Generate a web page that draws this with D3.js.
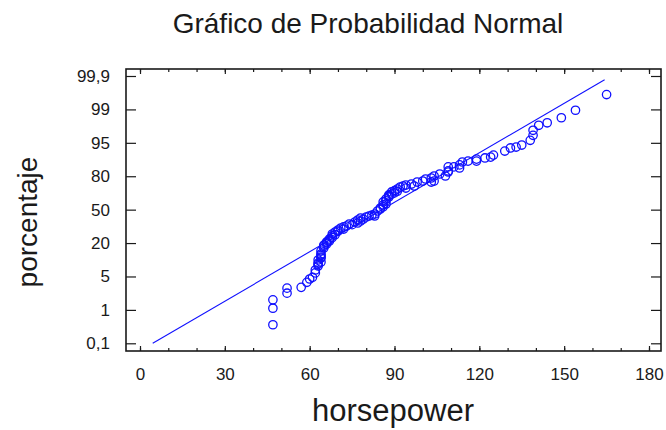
<!DOCTYPE html>
<html>
<head>
<meta charset="utf-8">
<script src="https://cdn.jsdelivr.net/npm/d3@7/dist/d3.min.js"></script>
<style>
  html, body { margin: 0; padding: 0; background: #fff; }
  svg { display: block; font-family: "Liberation Sans", Arial, sans-serif; }
</style>
</head>
<body>
<svg id="chart" width="666" height="430"></svg>
<script>
// Normal probability plot of horsepower
const yTickValues = [0.1, 1, 5, 20, 50, 80, 95, 99, 99.9];
const yTickLabels = ["0,1", "1", "5", "20", "50", "80", "95", "99", "99,9"];
const xTickValues = [0, 30, 60, 90, 120, 150, 180];
const xMinorTicks = d3.range(0, 181, 10);

// observed values (horsepower) and their cumulative percentage
const horsepower = [47, 47, 47, 52, 52, 57, 59, 60, 61, 62, 62, 63, 63, 63, 64, 63, 64, 64, 64, 64,
  64, 65, 65, 65, 66, 66, 66, 67, 67, 67, 68, 68, 68, 69, 69, 70, 70, 71, 72, 72,
  73, 74, 75, 76, 77, 77, 78, 78, 79, 80, 81, 82, 83, 83, 84, 85, 85, 86, 86, 87,
  86, 87, 87, 88, 88, 88, 89, 89, 90, 90, 91, 91, 92, 93, 94, 94, 96, 97, 98, 100,
  101, 103, 103, 104, 104, 106, 108, 109, 109, 109, 111, 113, 113, 114, 116, 119, 119, 122, 124, 125,
  129, 131, 133, 135, 138, 139, 139, 141, 144, 149, 154, 165];
const percentage = [0.6, 1.2, 2.2, 3.0, 3.6, 3.7, 4.3, 4.7, 4.9, 6.6, 7.9, 9.7, 10.5, 11.0, 11.5, 12.4, 13.3, 13.7, 14.5, 15.1,
  16.4, 17.8, 18.5, 19.1, 19.6, 20.3, 21.0, 21.9, 22.8, 23.7, 25.0, 26.4, 28.1, 27.5, 29.9, 30.5, 31.7, 33.5, 32.6, 34.5,
  35.3, 37.1, 36.5, 38.9, 38.0, 40.7, 39.8, 42.5, 41.5, 43.4, 44.3, 45.0, 44.3, 46.1, 48.8, 50.5, 51.5, 52.5, 54.2, 55.1,
  56.9, 58.0, 59.6, 61.4, 62.5, 63.2, 64.0, 65.9, 65.0, 67.0, 66.5, 68.5, 70.3, 71.2, 69.4, 72.1, 73.0, 71.2, 74.8, 75.7,
  77.5, 74.8, 78.4, 75.7, 80.1, 81.0, 80.1, 81.9, 82.4, 84.2, 84.2, 83.7, 85.1, 86.4, 86.8, 86.8, 87.7, 88.2, 88.6, 89.5,
  91.3, 92.7, 93.1, 94.0, 95.3, 95.9, 96.5, 97.1, 97.4, 98.0, 98.9, 99.4];

// fitted normal reference line
const fitHp = [4.5, 164.3];
const fitPct = [0.1, 99.8];

const blue = "#1010ff";
const ink = "#1a1a1a";

const svg = d3.select("#chart");

// plot frame
const frame = { left: 126, right: 661, top: 69, bottom: 351 };

const x = d3.scaleLinear().domain([0, 180]).range([140, 649]);

// probability axis: labelled percentages sit at equal steps
const yTop = 76, yBottom = 343.3;
const step = (yBottom - yTop) / (yTickValues.length - 1);
const y = d3.scaleLinear()
  .domain(yTickValues)
  .range(yTickValues.map((d, i) => yBottom - i * step));

// frame rectangle
svg.append("rect")
  .attr("x", frame.left).attr("y", frame.top)
  .attr("width", frame.right - frame.left).attr("height", frame.bottom - frame.top)
  .attr("fill", "none").attr("stroke", ink).attr("stroke-width", 1.6);

function styleAxis(g) {
  g.select(".domain").remove();
  g.selectAll(".tick line").attr("stroke", ink).attr("stroke-width", 1.2);
  g.selectAll(".tick text").attr("fill", ink)
    .style("font-family", '"Liberation Sans", Arial, sans-serif')
    .style("font-size", "17px");
}

// bottom axis: labelled majors, minor ticks every 10
svg.append("g").attr("transform", `translate(0,${frame.bottom})`)
  .call(d3.axisBottom(x).tickValues(xMinorTicks).tickSizeInner(-3).tickSizeOuter(0).tickFormat(""))
  .call(styleAxis);
svg.append("g").attr("transform", `translate(0,${frame.bottom})`)
  .call(d3.axisBottom(x).tickValues(xTickValues).tickSizeInner(-5).tickSizeOuter(0).tickPadding(17))
  .call(styleAxis);

// top axis (ticks only)
svg.append("g").attr("transform", `translate(0,${frame.top})`)
  .call(d3.axisTop(x).tickValues(xMinorTicks).tickSizeInner(-3).tickSizeOuter(0).tickFormat(""))
  .call(styleAxis);
svg.append("g").attr("transform", `translate(0,${frame.top})`)
  .call(d3.axisTop(x).tickValues(xTickValues).tickSizeInner(-5).tickSizeOuter(0).tickFormat(""))
  .call(styleAxis);

// left axis with percentage labels
svg.append("g").attr("transform", `translate(${frame.left},0)`)
  .call(d3.axisLeft(y).tickValues(yTickValues).tickSizeInner(-10).tickSizeOuter(0).tickPadding(16)
    .tickFormat((d, i) => yTickLabels[i]))
  .call(styleAxis);

// right axis (ticks only)
svg.append("g").attr("transform", `translate(${frame.right},0)`)
  .call(d3.axisRight(y).tickValues(yTickValues).tickSizeInner(-10).tickSizeOuter(0).tickFormat(""))
  .call(styleAxis);

// reference line
const line = d3.line().x(d => x(d[0])).y(d => y(d[1]));
svg.append("path")
  .datum(fitHp.map((h, i) => [h, fitPct[i]]))
  .attr("d", line)
  .attr("fill", "none").attr("stroke", blue).attr("stroke-width", 1.1);

// observations
svg.append("g").selectAll("circle")
  .data(horsepower.map((h, i) => ({ h, p: percentage[i] })))
  .join("circle")
  .attr("cx", d => x(d.h))
  .attr("cy", d => y(d.p))
  .attr("r", 4.2)
  .attr("fill", "none")
  .attr("stroke", blue)
  .attr("stroke-width", 1.3);

// titles
svg.append("text")
  .attr("x", 368).attr("y", 33)
  .attr("text-anchor", "middle")
  .attr("fill", ink)
  .style("font-size", "28px")
  .text("Gráfico de Probabilidad Normal");

svg.append("text")
  .attr("x", 393).attr("y", 421)
  .attr("text-anchor", "middle")
  .attr("fill", ink)
  .style("font-size", "31px")
  .text("horsepower");

svg.append("text")
  .attr("transform", "translate(37,222) rotate(-90)")
  .attr("text-anchor", "middle")
  .attr("fill", ink)
  .style("font-size", "28px")
  .text("porcentaje");
</script>
</body>
</html>
